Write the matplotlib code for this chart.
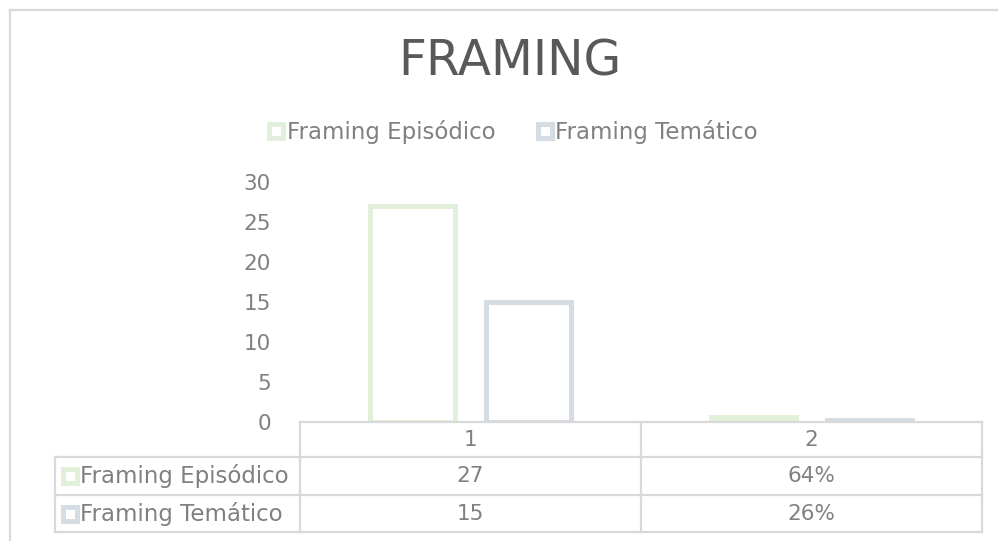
import matplotlib.pyplot as plt
from matplotlib.lines import Line2D

categories = ['1', '2']
series_names = ['Framing Episódico', 'Framing Temático']
episodico = [27, 0.64]
tematico = [15, 0.26]
table_labels = [['27', '64%'], ['15', '26%']]
yticks = [0, 5, 10, 15, 20, 25, 30]

colors = ['#E2EFDA', '#D6DCE4']
text_col = '#808080'
line_col = '#D9D9D9'

plt.rcParams['font.family'] = ['DejaVu Sans']

W, H = 998, 541
fig = plt.figure(figsize=(W / 100, H / 100), dpi=100)

# outer chart border (cut off on the right and bottom)
fig.add_artist(Line2D([10 / W, 10 / W], [0, 1 - 10 / H], color=line_col, lw=1.6))
fig.add_artist(Line2D([10 / W, 1], [1 - 10 / H, 1 - 10 / H], color=line_col, lw=1.6))

ax = fig.add_axes([300 / W, 1 - 422 / H, 682 / W, 240 / H])
x = range(len(categories))
w = 0.25
off = 0.17
ax.bar([i - off for i in x], episodico, width=w, facecolor='white',
       edgecolor=colors[0], linewidth=3.6, label=series_names[0])
ax.bar([i + off for i in x], tematico, width=w, facecolor='white',
       edgecolor=colors[1], linewidth=3.6, label=series_names[1])

ax.set_xlim(-0.5, 1.5)
ax.set_ylim(0, 30)
ax.set_yticks(yticks)
ax.set_yticklabels([str(t) for t in yticks], fontsize=15.5, color=text_col)
ax.tick_params(axis='y', length=0, pad=21)
ax.set_xticks([])
for s in ['top', 'right', 'left']:
    ax.spines[s].set_visible(False)
ax.spines['bottom'].set_color(line_col)
ax.spines['bottom'].set_linewidth(1.6)

# data table under the axis, in data units (8 px per y unit, 341 px per category)
px_x = 341.0
px_y = 8.0
left = -0.5 - (300 - 55) / px_x
right = 1.5
r0 = 0
r1 = -(457 - 422) / px_y
r2 = -(495 - 422) / px_y
r3 = -(532 - 422) / px_y
kw = dict(color=line_col, lw=1.6, clip_on=False)
for yy in [r1, r2, r3]:
    ax.plot([left, right], [yy, yy], **kw)
for xx in [-0.5, 0.5, 1.5]:
    ax.plot([xx, xx], [r0, r3], **kw)
ax.plot([left, left], [r1, r3], **kw)

for i, c in enumerate(categories):
    ax.text(i, (r0 + r1) / 2, c, ha='center', va='center', fontsize=15.5, color=text_col)
rows = [(r1 + r2) / 2, (r2 + r3) / 2]
for j, name in enumerate(series_names):
    ax.plot([left + 15 / px_x], [rows[j]], marker='s', markersize=10,
            markerfacecolor='white', markeredgecolor=colors[j], markeredgewidth=3.6,
            clip_on=False)
    ax.text(left + 25 / px_x, rows[j], name, ha='left', va='center', fontsize=16.5, color=text_col)
    for i in range(len(categories)):
        ax.text(i, rows[j], table_labels[j][i], ha='center', va='center', fontsize=15.5, color=text_col)

fig.text(510 / W, 1 - 61 / H, 'FRAMING', ha='center', va='center', fontsize=35, color='#595959')

handles = [Line2D([], [], linestyle='none', marker='s', markersize=10,
                  markerfacecolor='white', markeredgecolor=c, markeredgewidth=3.6)
           for c in colors]
fig.legend(handles, series_names, loc='center', bbox_to_anchor=(513 / W, 1 - 132 / H),
           ncol=2, frameon=False, fontsize=16.5, labelcolor=text_col,
           handlelength=0.7, handletextpad=0.1, columnspacing=1.8)

fig.savefig('out.png', dpi=100)
